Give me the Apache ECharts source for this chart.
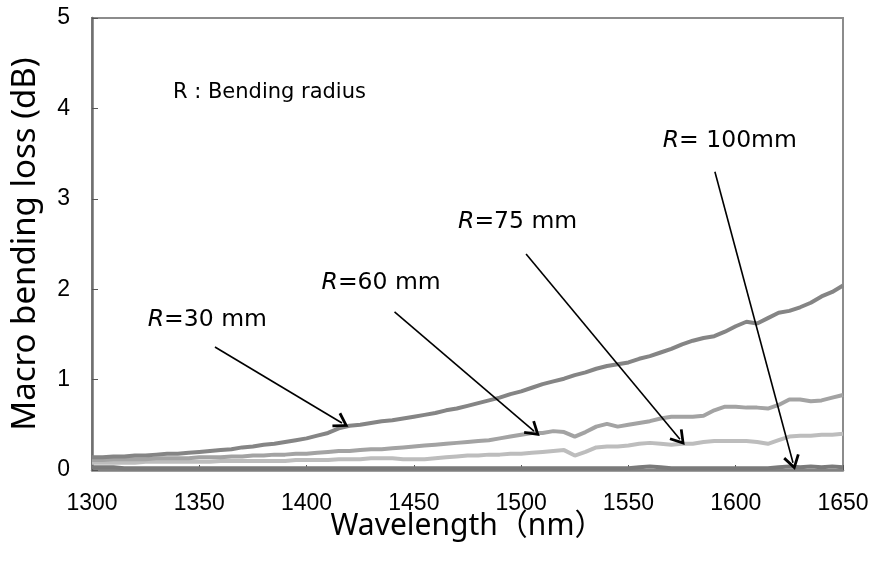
<!DOCTYPE html>
<html>
<head>
<meta charset="utf-8">
<script src="https://cdn.jsdelivr.net/npm/echarts@6/dist/echarts.min.js"></script>
<style>
  html, body { margin: 0; padding: 0; background: #fff; }
  #chart { width: 876px; height: 568px; }
</style>
</head>
<body>
<div id="chart"></div>
<script>
// wavelength (nm)
var wavelength = [1300,1305,1310,1315,1320,1325,1330,1335,1340,1345,1350,1355,1360,1365,1370,1375,1380,1385,1390,1395,
  1400,1405,1410,1415,1420,1425,1430,1435,1440,1445,1450,1455,1460,1465,1470,1475,1480,1485,1490,1495,
  1500,1505,1510,1515,1520,1525,1530,1535,1540,1545,1550,1555,1560,1565,1570,1575,1580,1585,1590,1595,
  1600,1605,1610,1615,1620,1625,1630,1635,1640,1645,1650];

// macro bending loss (dB)
var lossR30 = [0.14,0.14,0.15,0.15,0.16,0.16,0.17,0.18,0.18,0.19,0.20,0.21,0.22,0.23,0.25,0.26,0.28,0.29,0.31,0.33,
  0.35,0.38,0.41,0.46,0.49,0.50,0.52,0.54,0.55,0.57,0.59,0.61,0.63,0.66,0.68,0.71,0.74,0.77,0.80,0.84,
  0.87,0.91,0.95,0.98,1.01,1.05,1.08,1.12,1.15,1.17,1.19,1.23,1.26,1.30,1.34,1.39,1.43,1.46,1.48,1.53,
  1.59,1.64,1.62,1.68,1.74,1.76,1.80,1.85,1.92,1.97,2.04];
var lossR60 = [0.11,0.11,0.12,0.12,0.12,0.12,0.13,0.13,0.13,0.13,0.14,0.14,0.14,0.15,0.15,0.16,0.16,0.17,0.17,0.18,
  0.18,0.19,0.20,0.21,0.21,0.22,0.23,0.23,0.24,0.25,0.26,0.27,0.28,0.29,0.30,0.31,0.32,0.33,0.35,0.37,
  0.39,0.41,0.41,0.43,0.42,0.37,0.42,0.48,0.51,0.48,0.50,0.52,0.54,0.57,0.59,0.59,0.59,0.60,0.66,0.70,
  0.70,0.69,0.69,0.68,0.72,0.78,0.78,0.76,0.77,0.80,0.83];
var lossR75 = [0.08,0.08,0.08,0.08,0.08,0.09,0.09,0.09,0.09,0.09,0.09,0.09,0.10,0.10,0.10,0.10,0.10,0.10,0.10,0.11,
  0.11,0.11,0.11,0.12,0.12,0.12,0.13,0.13,0.13,0.12,0.12,0.12,0.13,0.14,0.15,0.16,0.16,0.17,0.17,0.18,
  0.18,0.19,0.20,0.21,0.22,0.16,0.20,0.25,0.26,0.26,0.27,0.29,0.30,0.29,0.28,0.29,0.29,0.31,0.32,0.32,
  0.32,0.32,0.31,0.29,0.33,0.37,0.38,0.38,0.39,0.39,0.40];
var lossR100 = [0.03,0.03,0.03,0.02,0.02,0.02,0.02,0.02,0.02,0.02,0.02,0.02,0.02,0.02,0.02,0.02,0.02,0.02,0.02,0.02,
  0.02,0.02,0.02,0.02,0.02,0.02,0.02,0.02,0.02,0.02,0.02,0.02,0.02,0.02,0.02,0.02,0.02,0.02,0.02,0.02,
  0.02,0.02,0.02,0.02,0.02,0.02,0.02,0.02,0.02,0.02,0.02,0.03,0.04,0.03,0.02,0.02,0.02,0.02,0.02,0.02,
  0.02,0.02,0.02,0.02,0.03,0.04,0.03,0.04,0.03,0.04,0.03];

var xTicks = [1300, 1650, 50];
var yTicks = [0, 5, 1];

// annotation texts: [text, wavelength, loss] (left edge, vertical centre)
var noteBending = ['R : Bending radius', 1337.7, 4.17];
var labelR30 = ['=30 mm', 1326, 1.66];
var labelR60 = ['=60 mm', 1407, 2.07];
var labelR75 = ['=75 mm', 1470.6, 2.74];
var labelR100 = ['= 100mm', 1566, 3.64];

// arrows: [fromWl, fromLoss, toWl, toLoss]
var arrowR30 = [1357.3, 1.36, 1416.5, 0.52];
var arrowR60 = [1441, 1.75, 1506, 0.43];
var arrowR75 = [1502.3, 2.39, 1574, 0.34];
var arrowR100 = [1590.3, 3.30, 1626.7, 0.08];

var arrowHead = 'path://M0,9 L5,0 L10,9 L8.6,10 L5,3.4 L1.4,10 Z';

function pairs(y) {
  var out = [];
  for (var i = 0; i < wavelength.length; i++) out.push([wavelength[i], y[i]]);
  return out;
}

function arrow(a) {
  return {
    silent: true,
    symbol: ['none', arrowHead],
    symbolSize: [17, 15],
    label: { show: false },
    lineStyle: { color: '#000', width: 1.6, type: 'solid' },
    emphasis: { disabled: true },
    data: [[{ coord: [a[0], a[1]] }, { coord: [a[2], a[3]] }]]
  };
}

function note(items) {
  return {
    silent: true,
    symbol: 'circle',
    symbolSize: 0,
    data: items.map(function (t) {
      var isR = t[0].charAt(0) === '=';
      return {
        coord: [t[1], t[2]],
        label: {
          show: true,
          position: 'right',
          distance: 0,
          formatter: isR ? '{i|R}{n|' + t[0] + '}' : '{b|' + t[0] + '}',
          rich: {
            i: { fontFamily: 'DejaVu Sans', fontSize: 23.5, fontStyle: 'italic', color: '#000' },
            n: { fontFamily: 'DejaVu Sans', fontSize: 23.5, color: '#000' },
            b: { fontFamily: 'DejaVu Sans', fontSize: 21, color: '#000' }
          }
        }
      };
    })
  };
}

var chart = echarts.init(document.getElementById('chart'));

var option = {
  animation: false,
  backgroundColor: '#fff',
  grid: {
    left: 92, right: 33, top: 18, bottom: 98,
    show: true, borderColor: '#8c8c8c', borderWidth: 2
  },
  xAxis: {
    type: 'value',
    min: xTicks[0], max: xTicks[1], interval: xTicks[2],
    name: 'Wavelength（nm）',
    nameLocation: 'middle',
    nameGap: 41,
    nameMoveOverlap: false,
    nameTextStyle: { fontFamily: 'Noto Sans, Noto Sans CJK JP', fontSize: 30, color: '#000' },
    axisLine: { lineStyle: { color: '#808080', width: 2.5 } },
    axisTick: { inside: true, length: 5, lineStyle: { color: '#555', width: 1 } },
    axisLabel: {
      fontFamily: 'Liberation Sans', fontSize: 23, color: '#000', margin: 22,
      formatter: function (v) { return String(v); }
    },
    splitLine: { show: false }
  },
  yAxis: {
    type: 'value',
    min: yTicks[0], max: yTicks[1], interval: yTicks[2],
    name: 'Macro bending loss (dB)',
    nameLocation: 'middle',
    nameGap: 50,
    nameMoveOverlap: false,
    nameTextStyle: { fontFamily: 'Noto Sans', fontSize: 33, color: '#000' },
    axisLine: { lineStyle: { color: '#707070', width: 2.5 } },
    axisTick: { inside: true, length: 6, lineStyle: { color: '#555', width: 1 } },
    axisLabel: { fontFamily: 'Liberation Sans', fontSize: 23, color: '#000', margin: 22 },
    splitLine: { show: false }
  },
  series: [
    {
      name: 'R=100 mm', type: 'line', data: pairs(lossR100),
      showSymbol: false, symbol: 'none',
      lineStyle: { color: '#7a7a7a', width: 4 },
      markLine: arrow(arrowR100),
      markPoint: note([labelR100])
    },
    {
      name: 'R=75 mm', type: 'line', data: pairs(lossR75),
      showSymbol: false, symbol: 'none',
      lineStyle: { color: '#bdbdbd', width: 4 },
      markLine: arrow(arrowR75),
      markPoint: note([labelR75])
    },
    {
      name: 'R=60 mm', type: 'line', data: pairs(lossR60),
      showSymbol: false, symbol: 'none',
      lineStyle: { color: '#a3a3a3', width: 4 },
      markLine: arrow(arrowR60),
      markPoint: note([labelR60])
    },
    {
      name: 'R=30 mm', type: 'line', data: pairs(lossR30),
      showSymbol: false, symbol: 'none',
      lineStyle: { color: '#858585', width: 4 },
      markLine: arrow(arrowR30),
      markPoint: note([labelR30, noteBending])
    }
  ]
};

chart.setOption(option);
</script>
</body>
</html>
